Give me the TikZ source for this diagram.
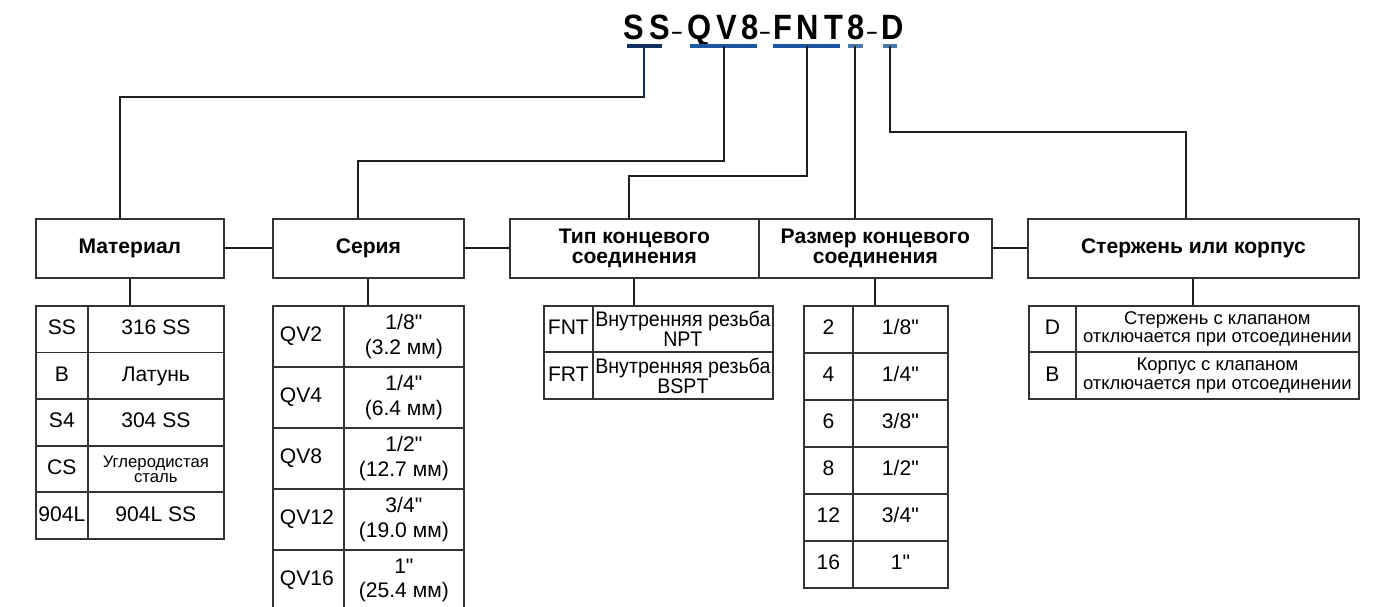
\documentclass[tikz,border=0pt]{standalone}
\usepackage{fontspec}
\setmainfont{Liberation Sans}[Ligatures=TeXOff]
\usepackage{tikz}
\definecolor{boxc}{HTML}{333333}
\definecolor{linec}{HTML}{1E1E1E}
\definecolor{navyc}{HTML}{0F2F5C}
\definecolor{bluec}{HTML}{1B58A5}
\definecolor{steelc}{HTML}{4A78A8}
\tikzset{
  code/.style={anchor=base, inner sep=0pt, font=\bfseries\fontsize{20}{20}\selectfont\addfontfeature{FakeStretch=0.88,LetterSpace=14}},
  codedash/.style={anchor=base, inner sep=0pt, font=\bfseries\fontsize{11}{11}\selectfont},
  uline/.style={line width=2.2pt},
  conn/.style={draw=linec, line width=1pt},
  head/.style={draw=boxc, line width=1pt, minimum height=1.18cm, inner sep=0pt, anchor=north west, align=center, font=\bfseries\fontsize{12}{11}\selectfont},
  cell/.style={draw=boxc, line width=1pt, inner sep=0pt, anchor=north west, align=center, font=\fontsize{12}{14}\selectfont},
  one/.style={text height=8.8pt, text depth=2.6pt},
  matA/.style={cell, one, minimum width=1.04cm, minimum height=0.932cm},
  matB/.style={cell, one, minimum width=2.72cm, minimum height=0.932cm},
  serA/.style={cell, one, minimum width=1.42cm, minimum height=1.22cm, text width=1.14cm, inner xsep=0.14cm, align=left},
  serB/.style={cell, minimum width=2.4cm, minimum height=1.22cm},
  typA/.style={cell, one, minimum width=0.98cm, minimum height=0.93cm},
  typB/.style={cell, minimum width=3.6cm, minimum height=0.93cm, font=\fontsize{12}{11.5}\selectfont\addfontfeature{FakeStretch=0.93}},
  sizA/.style={cell, one, minimum width=0.98cm, minimum height=0.94cm},
  sizB/.style={cell, one, minimum width=1.9cm, minimum height=0.94cm},
  rodA/.style={cell, one, minimum width=0.94cm, minimum height=0.93cm},
  rodB/.style={cell, minimum width=5.66cm, minimum height=0.93cm, font=\fontsize{10.5}{10.5}\selectfont},
}

\begin{document}
\begin{tikzpicture}[x=0.02cm, y=-0.02cm]
\useasboundingbox (0,0) rectangle (1378,607);
\node[code] (cSS) at (647,40) {SS};
\node[codedash] (k1) at (677,39) {–};
\node[code] (cQV) at (723,40) {QV8};
\node[codedash] (k2) at (765,39) {–};
\node[code] (cFN) at (808,40) {FNT};
\node[code] (c8) at (856,40) {8};
\node[codedash] (k3) at (872,39) {–};
\node[code] (cD) at (893,40) {D};
\draw[uline, navyc] (627,46) -- (662,46);
\draw[uline, bluec] (690,46) -- (757,46);
\draw[uline, bluec] (773,46) -- (840,46);
\draw[uline, steelc] (848,46) -- (863,46);
\draw[uline, steelc] (883,46) -- (897,46);
\coordinate (uSS) at (644,46);
\coordinate (uQV) at (724,46);
\coordinate (uFN) at (807,46);
\coordinate (u8) at (855,46);
\coordinate (uD) at (890,46);

\node[head, minimum width=3.76cm] (mat) at (35,218) {Материал};
\node[head, minimum width=3.82cm] (ser) at (272,218) {Серия};
\node[head, minimum width=4.98cm] (typ) at (509,218) {Тип концевого\\соединения};
\node[head, minimum width=4.66cm] (siz) at (758,218) {Размер концевого\\соединения};
\node[head, minimum width=6.62cm] (rod) at (1027,218) {Стержень или корпус};

\draw[conn] (uSS) -- ++(0,51) -| ([xshift=-0.2cm]mat.north);
\draw[conn, navyc] (uSS) -- ++(0,51);
\draw[conn] (uQV) -- ++(0,115) -| ([xshift=-0.21cm]ser.north);
\draw[conn] (uFN) -- ++(0,130) -| ([xshift=-0.11cm]typ.north);
\draw[conn] (u8) -- (u8 |- siz.north);
\draw[conn] (uD) -- ++(0,86) -| ([xshift=-0.15cm]rod.north);
\draw[conn] (mat.east) -- (ser.west);
\draw[conn] (ser.east) -- (typ.west);
\draw[conn] (siz.east) -- (rod.west);

\node[matA] (m1a) at (35,305) {SS};
\node[matB] (m1b) at (87,305) {316 SS};
\node[matA] (m2a) at (35,351.6) {B};
\node[matB] (m2b) at (87,351.6) {Латунь};
\node[matA] (m3a) at (35,398.2) {S4};
\node[matB] (m3b) at (87,398.2) {304 SS};
\node[matA] (m4a) at (35,444.8) {CS};
\node[matB, text height=, text depth=, font=\fontsize{9.5}{8.5}\selectfont] (m4b) at (87,444.8) {Углеродистая\\сталь};
\node[matA] (m5a) at (35,491.4) {904L};
\node[matB] (m5b) at (87,491.4) {904L SS};

\node[serA] (s1a) at (272,305) {QV2};
\node[serB] (s1b) at (343,305) {1/8"\\(3.2 мм)};
\node[serA] (s2a) at (272,366) {QV4};
\node[serB] (s2b) at (343,366) {1/4"\\(6.4 мм)};
\node[serA] (s3a) at (272,427) {QV8};
\node[serB] (s3b) at (343,427) {1/2"\\(12.7 мм)};
\node[serA] (s4a) at (272,488) {QV12};
\node[serB] (s4b) at (343,488) {3/4"\\(19.0 мм)};
\node[serA] (s5a) at (272,549) {QV16};
\node[serB] (s5b) at (343,549) {1"\\(25.4 мм)};

\node[typA] (t1a) at (543,305) {FNT};
\node[typB] (t1b) at (592,305) {Внутренняя резьба\\NPT};
\node[typA] (t2a) at (543,351.5) {FRT};
\node[typB] (t2b) at (592,351.5) {Внутренняя резьба\\BSPT};

\node[sizA] (z1a) at (803,305) {2};
\node[sizB] (z1b) at (852,305) {1/8"};
\node[sizA] (z2a) at (803,352) {4};
\node[sizB] (z2b) at (852,352) {1/4"};
\node[sizA] (z3a) at (803,399) {6};
\node[sizB] (z3b) at (852,399) {3/8"};
\node[sizA] (z4a) at (803,446) {8};
\node[sizB] (z4b) at (852,446) {1/2"};
\node[sizA] (z5a) at (803,493) {12};
\node[sizB] (z5b) at (852,493) {3/4"};
\node[sizA] (z6a) at (803,540) {16};
\node[sizB] (z6b) at (852,540) {1"};

\node[rodA] (r1a) at (1028,305) {D};
\node[rodB] (r1b) at (1075,305) {Стержень с клапаном\\отключается при отсоединении};
\node[rodA] (r2a) at (1028,351.5) {B};
\node[rodB] (r2b) at (1075,351.5) {Корпус с клапаном\\отключается при отсоединении};

\draw[conn] (mat.south) -- (mat.south |- m1b.north);
\draw[conn] (ser.south) -- (ser.south |- s1b.north);
\draw[conn] (typ.south) -- (typ.south |- t1b.north);
\draw[conn] (siz.south) -- (siz.south |- z1b.north);
\draw[conn] (rod.south) -- (rod.south |- r1b.north);
\end{tikzpicture}
\end{document}
